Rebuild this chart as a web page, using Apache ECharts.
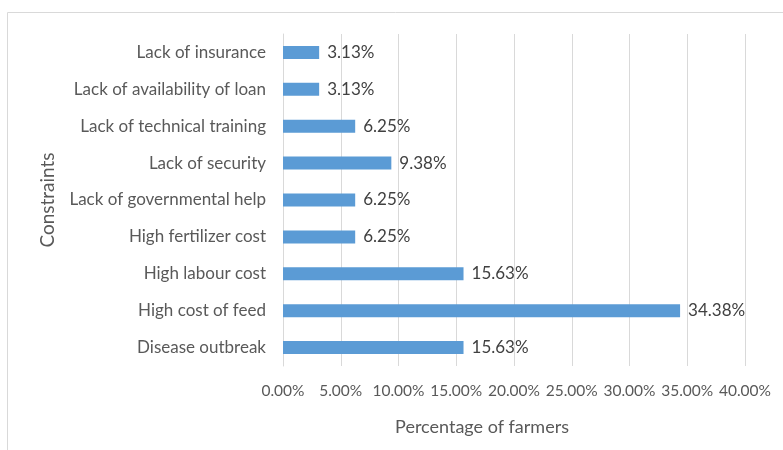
<!DOCTYPE html>
<html>
<head>
<meta charset="utf-8">
<script src="https://cdn.jsdelivr.net/npm/echarts@6/dist/echarts.min.js"></script>
<style>
  html, body { margin: 0; padding: 0; background: #fff; }
  #chart { width: 783px; height: 450px; }
</style>
</head>
<body>
<div id="chart"></div>
<script>
// categories bottom -> top, as they show on the axis
const constraints = [
  'Disease outbreak',
  'High cost of feed',
  'High labour cost',
  'High fertilizer cost',
  'Lack of governmental help',
  'Lack of security',
  'Lack of technical training',
  'Lack of availability of loan',
  'Lack of insurance'
]
const farmerPct = [15.63, 34.38, 15.63, 6.25, 6.25, 9.38, 6.25, 3.13, 3.13]
const xTicks = [0, 5, 10, 15, 20, 25, 30, 35, 40]

const font = 'Lato'
const chart = echarts.init(document.getElementById('chart'))

chart.setOption({
  animation: false,
  textStyle: { fontFamily: font },
  // outer chart border (cut off at right/bottom like the picture)
  graphic: [{
    type: 'rect',
    shape: { x: 7.5, y: 12.5, width: 820, height: 480 },
    style: { fill: 'none', stroke: '#d9d9d9', lineWidth: 1 },
    silent: true
  }],
  grid: { left: 283, right: 38, top: 34, bottom: 84, containLabel: false },
  xAxis: {
    type: 'value',
    min: xTicks[0],
    max: xTicks[xTicks.length - 1],
    interval: 5,
    name: 'Percentage of farmers',
    nameLocation: 'middle',
    nameGap: 52,
    nameTextStyle: { color: '#595959', fontSize: 18, fontFamily: font, padding: [0, 64, 0, 0] },
    axisLine: { show: false },
    axisTick: { show: false },
    axisLabel: {
      color: '#595959', fontSize: 15.5, fontFamily: font, margin: 17,
      formatter: v => v.toFixed(2) + '%'
    },
    splitLine: { show: true, lineStyle: { color: '#d9d9d9', width: 1 } }
  },
  yAxis: {
    type: 'category',
    data: constraints,
    name: 'Constraints',
    nameLocation: 'middle',
    nameGap: 226,
    nameRotate: 90,
    nameTextStyle: { color: '#595959', fontSize: 19, fontFamily: font },
    axisLine: { show: true, lineStyle: { color: '#d9d9d9', width: 1 } },
    axisTick: { show: false },
    axisLabel: { color: '#595959', fontSize: 17, fontFamily: font, margin: 17 }
  },
  series: [{
    type: 'bar',
    data: farmerPct,
    barWidth: 13,
    itemStyle: { color: '#5b9bd5' },
    label: {
      show: true,
      position: 'right',
      distance: 8,
      color: '#404040',
      fontSize: 17,
      fontFamily: font,
      formatter: p => p.value.toFixed(2) + '%'
    }
  }]
})
</script>
</body>
</html>
